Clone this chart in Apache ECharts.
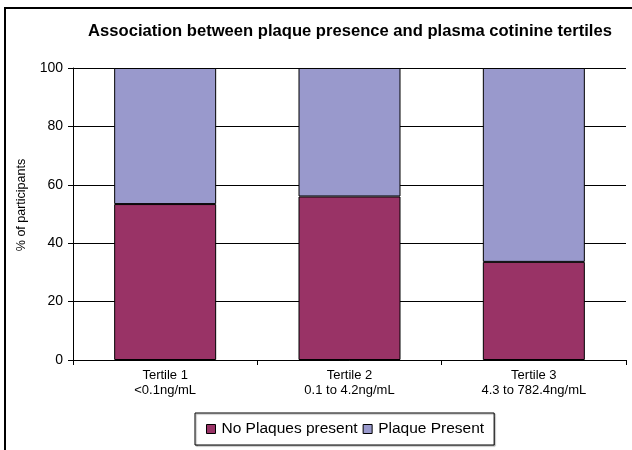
<!DOCTYPE html>
<html>
<head>
<meta charset="utf-8">
<script src="https://cdn.jsdelivr.net/npm/echarts@6/dist/echarts.min.js"></script>
<style>
html,body{margin:0;padding:0;background:#fff;}
#c{width:632px;height:450px;}
</style>
</head>
<body>
<div id="c"></div>
<script>
var categories = ['Tertile 1\n<0.1ng/mL', 'Tertile 2\n0.1 to 4.2ng/mL', 'Tertile 3\n4.3 to 782.4ng/mL'];
var noPlaques = [53.4, 56.0, 33.6];
var plaquePresent = [46.6, 44.0, 66.4];
var yTicks = [0, 20, 40, 60, 80, 100];

var chart = echarts.init(document.getElementById('c'));
var font = 'Arial, "Liberation Sans", Helvetica, sans-serif';
chart.setOption({
  animation: false,
  backgroundColor: '#fff',
  textStyle: {fontFamily: font, color: '#000'},
  title: {
    text: 'Association between plaque presence and plasma cotinine tertiles',
    left: 345, textAlign: 'center', top: 18,
    textStyle: {fontSize: 16.6, fontWeight: 'bold', color: '#000', fontFamily: font}
  },
  graphic: [{
    type: 'rect', shape: {x: 5, y: 8, width: 640, height: 460},
    style: {fill: 'none', stroke: '#000', lineWidth: 2}, silent: true, z: 100
  }],
  legend: {
    data: ['No Plaques present', 'Plaque Present'],
    left: 195, top: 413,
    itemWidth: 9, itemHeight: 9, itemGap: 5,
    padding: [8, 10, 8, 11],
    borderColor: '#000', borderWidth: 1,
    shadowColor: 'rgba(0,0,0,0.35)', shadowOffsetX: 1, shadowOffsetY: 1, shadowBlur: 1,
    backgroundColor: '#fff',
    icon: 'rect',
    itemStyle: {borderColor: '#000', borderWidth: 1},
    textStyle: {fontSize: 15.5, color: '#000', fontFamily: font, padding: [0, 0, 0, 1]}
  },
  grid: {left: 73, right: 6, top: 68, bottom: 90, containLabel: false},
  xAxis: {
    type: 'category', data: categories,
    axisLine: {lineStyle: {color: '#000', width: 1}},
    axisTick: {show: true, length: 5, lineStyle: {color: '#000'}},
    axisLabel: {fontSize: 13, color: '#000', lineHeight: 15, margin: 8, fontFamily: font},
    splitLine: {show: false}
  },
  yAxis: {
    type: 'value', min: 0, max: 100, interval: 20,
    name: '% of participants', nameLocation: 'middle', nameGap: 45, nameRotate: 90,
    nameTextStyle: {fontSize: 12.5, color: '#000', fontFamily: font, padding: [0, 0, 0, 18]},
    axisLine: {show: true, lineStyle: {color: '#000', width: 1}},
    axisTick: {show: true, length: 5, lineStyle: {color: '#000'}},
    axisLabel: {fontSize: 14, color: '#000', margin: 10, fontFamily: font,
      formatter: function (v) { return yTicks.indexOf(v) >= 0 ? String(v) : ''; }},
    splitLine: {show: true, lineStyle: {color: '#000', width: 1}}
  },
  series: [{
    name: 'No Plaques present', type: 'bar', stack: 'a', data: noPlaques,
    barWidth: 102,
    itemStyle: {color: '#993366', borderColor: '#000', borderWidth: 1}
  }, {
    name: 'Plaque Present', type: 'bar', stack: 'a', data: plaquePresent,
    barWidth: 102,
    itemStyle: {color: '#9999CC', borderColor: '#000', borderWidth: 1}
  }]
});
</script>
</body>
</html>
